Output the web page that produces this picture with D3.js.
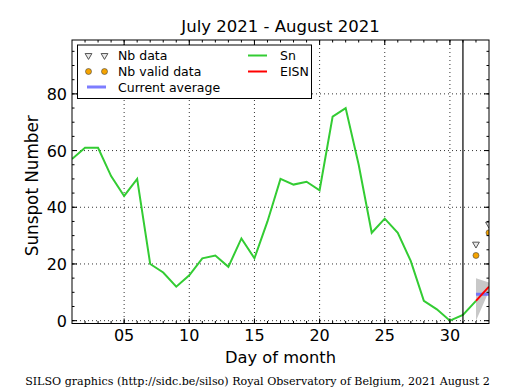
<!DOCTYPE html>
<html>
<head>
<script src="https://cdn.jsdelivr.net/npm/d3@7"></script>
<style>
    body { margin: 0; background: #fff; }
    svg { font-family: "DejaVu Sans", sans-serif; }
</style>
</head>
<body>
<svg width="515" height="390"></svg>
<script>
    // daily Sn, July 1 .. August 1 (day 32)
    const snDays = [1,2,3,4,5,6,7,8,9,10,11,12,13,14,15,16,17,18,19,20,21,22,23,24,25,26,27,28,29,30,31,32];
    const snValues = [57,61,61,51,44,50,20,17,12,16,22,23,19,29,22,35,50,48,49,46,72,75,55,31,36,31,21,7,4,0,2,7];

    // August provisional data
    const nbDays = [32, 33];
    const nbData = [27, 34];
    const nbValid = [23, 31];
    const eisnDays = [32, 33];
    const eisnValues = [7, 12];
    const bandLow = [0, 10.5];
    const bandHigh = [15, 13.5];
    const currentAverage = 9.3;

    const xTicks = [5, 10, 15, 20, 25, 30];
    const yTicks = [0, 20, 40, 60, 80];

    const svg = d3.select("svg");
    const pLeft = 72, pRight = 489, pTop = 40, pBottom = 323.5;

    const x = d3.scaleLinear().domain([1, 33]).range([pLeft, pRight]);
    const y = d3.scaleLinear().domain([-1, 99]).range([pBottom, pTop]);

    const plot = svg.append("g");
    svg.append("defs").append("clipPath").attr("id", "clip")
        .append("rect").attr("x", pLeft).attr("y", pTop)
        .attr("width", pRight - pLeft).attr("height", pBottom - pTop);

    // grid
    plot.selectAll(".gx").data(xTicks).enter().append("line")
        .attr("x1", d => x(d)).attr("x2", d => x(d))
        .attr("y1", pTop).attr("y2", pBottom)
        .attr("stroke", "#000").attr("stroke-width", 0.8).attr("stroke-dasharray", "1,3");
    plot.selectAll(".gy").data(yTicks).enter().append("line")
        .attr("x1", pLeft).attr("x2", pRight)
        .attr("y1", d => y(d)).attr("y2", d => y(d))
        .attr("stroke", "#000").attr("stroke-width", 0.8).attr("stroke-dasharray", "1,3");

    const data = plot.append("g").attr("clip-path", "url(#clip)");

    // forecast band
    const band = nbDays.map((d, i) => ({ d: d, lo: bandLow[i], hi: bandHigh[i] }));
    data.append("path").datum(band)
        .attr("d", d3.area().x(d => x(d.d)).y0(d => y(d.lo)).y1(d => y(d.hi)))
        .attr("fill", "#c8c8c8");

    // Sn line
    data.append("path").datum(snDays.map((d, i) => [d, snValues[i]]))
        .attr("d", d3.line().x(d => x(d[0])).y(d => y(d[1])))
        .attr("fill", "none").attr("stroke", "#33cc33").attr("stroke-width", 2);

    // current average
    data.append("line")
        .attr("x1", x(nbDays[0])).attr("x2", x(nbDays[1]))
        .attr("y1", y(currentAverage)).attr("y2", y(currentAverage))
        .attr("stroke", "#6666ff").attr("stroke-opacity", 0.85).attr("stroke-width", 3);

    // EISN
    data.append("path").datum(eisnDays.map((d, i) => [d, eisnValues[i]]))
        .attr("d", d3.line().x(d => x(d[0])).y(d => y(d[1])))
        .attr("fill", "none").attr("stroke", "#ff0000").attr("stroke-width", 2);

    // Nb data markers
    const tri = d3.symbol().type(d3.symbolTriangle).size(20);
    data.selectAll(".nb").data(nbDays).enter().append("path")
        .attr("d", tri)
        .attr("transform", (d, i) => "translate(" + x(d) + "," + y(nbData[i]) + ") rotate(180)")
        .attr("fill", "#e8e8e8").attr("stroke", "#555").attr("stroke-width", 1);
    data.selectAll(".nv").data(nbDays).enter().append("circle")
        .attr("cx", d => x(d)).attr("cy", (d, i) => y(nbValid[i]))
        .attr("r", 3).attr("fill", "#f5a300").attr("stroke", "#444").attr("stroke-width", 0.6);

    // day 31 separator
    plot.append("line")
        .attr("x1", x(31)).attr("x2", x(31)).attr("y1", pTop).attr("y2", pBottom)
        .attr("stroke", "#000").attr("stroke-width", 1.2);

    // frame
    plot.append("rect").attr("x", pLeft).attr("y", pTop)
        .attr("width", pRight - pLeft).attr("height", pBottom - pTop)
        .attr("fill", "none").attr("stroke", "#000").attr("stroke-width", 1);

    // ticks, inward
    const minorX = d3.range(2, 33);
    const minorY = d3.range(0, 99, 5);
    function tick(x1, y1, x2, y2) {
        plot.append("line").attr("x1", x1).attr("y1", y1).attr("x2", x2).attr("y2", y2)
            .attr("stroke", "#000").attr("stroke-width", 1);
    }
    minorX.forEach(d => { tick(x(d), pBottom, x(d), pBottom - 2.5); tick(x(d), pTop, x(d), pTop + 2.5); });
    xTicks.forEach(d => { tick(x(d), pBottom, x(d), pBottom - 5); tick(x(d), pTop, x(d), pTop + 5); });
    minorY.forEach(d => { tick(pLeft, y(d), pLeft + 2.5, y(d)); tick(pRight, y(d), pRight - 2.5, y(d)); });
    yTicks.forEach(d => { tick(pLeft, y(d), pLeft + 5, y(d)); tick(pRight, y(d), pRight - 5, y(d)); });

    // tick labels
    svg.selectAll(".xl").data(xTicks).enter().append("text")
        .attr("x", d => x(d)).attr("y", 341).attr("text-anchor", "middle")
        .attr("font-size", 16).text(d3.format("02d"));
    svg.selectAll(".yl").data(yTicks).enter().append("text")
        .attr("x", 67).attr("y", d => y(d) + 6).attr("text-anchor", "end")
        .attr("font-size", 16).text(d => d);

    // titles
    svg.append("text").attr("x", (pLeft + pRight) / 2).attr("y", 32)
        .attr("text-anchor", "middle").attr("font-size", 16.5).text("July 2021 - August 2021");
    svg.append("text").attr("x", (pLeft + pRight) / 2).attr("y", 363)
        .attr("text-anchor", "middle").attr("font-size", 16.3).text("Day of month");
    svg.append("text").attr("transform", "translate(37.5," + ((pTop + pBottom) / 2 + 4) + ") rotate(-90)")
        .attr("text-anchor", "middle").attr("font-size", 16.8).text("Sunspot Number");
    svg.append("text").attr("x", 257.5).attr("y", 385)
        .attr("text-anchor", "middle").attr("font-family", "DejaVu Serif").attr("font-size", 11.1)
        .text("SILSO graphics (http://sidc.be/silso) Royal Observatory of Belgium, 2021 August 2");

    // legend
    const lg = svg.append("g");
    lg.append("rect").attr("x", 77.5).attr("y", 45).attr("width", 234).attr("height", 53.5)
        .attr("fill", "#fff").attr("stroke", "#000").attr("stroke-width", 1);
    const rows = [55.5, 71.5, 87];
    [88.5, 104.5].forEach(cx => {
        lg.append("path").attr("d", tri)
            .attr("transform", "translate(" + cx + "," + rows[0] + ") rotate(180)")
            .attr("fill", "#e8e8e8").attr("stroke", "#555").attr("stroke-width", 1);
        lg.append("circle").attr("cx", cx).attr("cy", rows[1]).attr("r", 3)
            .attr("fill", "#f5a300").attr("stroke", "#444").attr("stroke-width", 0.6);
    });
    lg.append("line").attr("x1", 87).attr("x2", 106).attr("y1", rows[2]).attr("y2", rows[2])
        .attr("stroke", "#6666ff").attr("stroke-opacity", 0.85).attr("stroke-width", 3);
    lg.append("line").attr("x1", 248).attr("x2", 267).attr("y1", rows[0]).attr("y2", rows[0])
        .attr("stroke", "#33cc33").attr("stroke-width", 2);
    lg.append("line").attr("x1", 248).attr("x2", 267).attr("y1", rows[1]).attr("y2", rows[1])
        .attr("stroke", "#ff0000").attr("stroke-width", 2);
    const labels = [["Nb data", 118, rows[0]], ["Nb valid data", 118, rows[1]], ["Current average", 118, rows[2]],
                    ["Sn", 280, rows[0]], ["EISN", 280, rows[1]]];
    lg.selectAll(".lt").data(labels).enter().append("text")
        .attr("x", d => d[1]).attr("y", d => d[2] + 4.5)
        .attr("font-size", 12.5).text(d => d[0]);
</script>
</body>
</html>
